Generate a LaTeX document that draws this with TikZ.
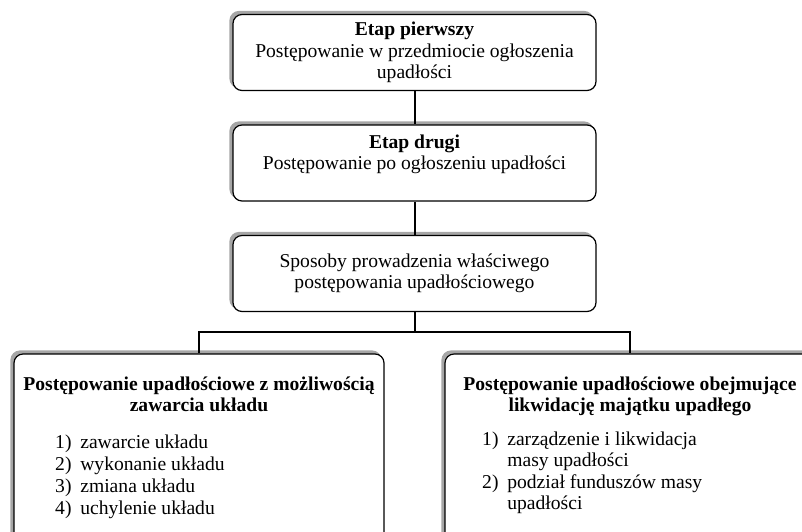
\documentclass[tikz,border=0pt]{standalone}
\usepackage{fontspec}
\setmainfont{Liberation Serif}
\usetikzlibrary{shadows, positioning}
\newcommand{\boxfont}{\fontsize{19.6}{21.5}\selectfont}
\newcommand{\listfont}{\fontsize{19.6}{22}\selectfont}
\tikzset{
    roundnode/.style = {draw, rectangle, rounded corners=9pt, line width=1.2pt, fill=white, 
      general shadow={fill=black!35, draw=black!35, shadow xshift=-3pt, shadow yshift=3pt}, font=\boxfont},
    stagenode/.style = {roundnode, minimum width=363pt, minimum height=76pt, align=center, inner sep=0pt},
    branchnode/.style = {roundnode, minimum width=370pt, minimum height=206pt, inner sep=0pt},
    textnode/.style  = {draw=none, fill=none, rectangle, inner sep=0em, font=\boxfont},
    connect/.style = {black, line width=2pt}
}

\begin{document}
\begin{tikzpicture}[x=1pt, y=-1pt]
    \clip (0,0) rectangle (802,531);
    \node[stagenode] (first) at (414.5,52.5) {\textbf{Etap pierwszy}\\Postępowanie w przedmiocie ogłoszenia\\upadłości};
    \node[stagenode] (second) at (414.5,163) {\textbf{Etap drugi}\\Postępowanie po ogłoszeniu upadłości\\~};
    \node[stagenode] (third) at (414.5,273.5) {Sposoby prowadzenia właściwego\\postępowania upadłościowego};
    \node[branchnode] (left) at (199,457) {};
    \node[branchnode] (right) at (630,457) {};
    \coordinate (bar) at (414.5,332);
    % box headings
    \node[textnode, align=center, anchor=north, font=\boxfont\bfseries] (lefttitle) at (199,376.5)
      {Postępowanie upadłościowe z możliwością\\zawarcia układu};
    \node[textnode, align=center, anchor=north, font=\boxfont\bfseries] (righttitle) at (630,376.5)
      {Postępowanie upadłościowe obejmujące\\likwidację majątku upadłego};
    % lists
    \node[textnode, align=left, anchor=north west, font=\listfont] (leftlist) at (55,434.5)
      {1)\hspace{0.45em}zawarcie układu\\2)\hspace{0.45em}wykonanie układu\\3)\hspace{0.45em}zmiana układu\\4)\hspace{0.45em}uchylenie układu};
    \node[textnode, align=left, anchor=north west] (rightlist) at (482,431.5)
      {1)\hspace{0.45em}zarządzenie i likwidacja\\\phantom{1)}\hspace{0.45em}masy upadłości\\2)\hspace{0.45em}podział funduszów masy\\\phantom{2)}\hspace{0.45em}upadłości};
    \draw[connect] (first) -- (second);
    \draw[connect] (second) -- (third);
    \draw[connect] (third) -- (bar);
    \draw[connect] (left) |- (bar) -| (right);
\end{tikzpicture}
\end{document}
